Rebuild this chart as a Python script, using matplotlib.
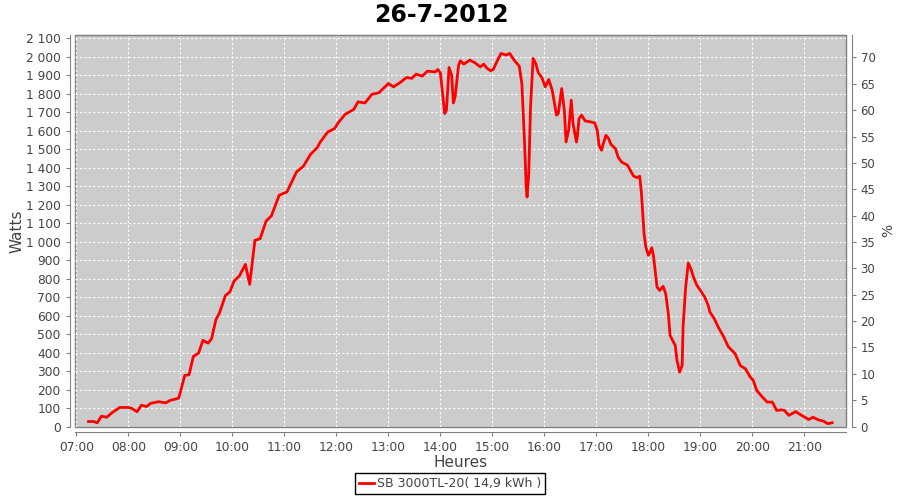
import matplotlib
matplotlib.use("Agg")
import matplotlib.pyplot as plt
from matplotlib.ticker import FuncFormatter, MultipleLocator
import numpy as np

# readings of the day (HH:MM, Watts)
times = ["07:14", "07:20", "07:24", "07:29", "07:35", "07:41", "07:50", "08:00", "08:04", "08:10",
         "08:15", "08:21", "08:26", "08:35", "08:43", "08:48", "08:58", "09:00", "09:05", "09:10",
         "09:15", "09:21", "09:26", "09:32", "09:36", "09:41", "09:45", "09:52", "09:57", "10:02",
         "10:08", "10:15", "10:20", "10:26", "10:32", "10:39", "10:45", "10:54", "11:03", "11:14",
         "11:22", "11:30", "11:38", "11:41", "11:50", "11:58", "12:02", "12:10", "12:20", "12:25",
         "12:33", "12:41", "12:49", "13:00", "13:06", "13:14", "13:21", "13:27", "13:32", "13:39",
         "13:45", "13:54", "13:57", "14:00", "14:03", "14:05", "14:07", "14:10", "14:13", "14:15",
         "14:17", "14:21", "14:23", "14:27", "14:34", "14:40", "14:46", "14:50", "14:54", "14:58",
         "15:01", "15:06", "15:10", "15:16", "15:20", "15:25", "15:31", "15:34", "15:37", "15:39",
         "15:40", "15:42", "15:44", "15:47", "15:50", "15:53", "15:57", "16:01", "16:05", "16:09",
         "16:14", "16:16", "16:20", "16:23", "16:25", "16:28", "16:31", "16:33", "16:37", "16:38",
         "16:40", "16:43", "16:47", "16:53", "16:58", "17:01", "17:03", "17:06", "17:08", "17:11",
         "17:14", "17:17", "17:22", "17:25", "17:29", "17:36", "17:39", "17:43", "17:47", "17:50",
         "17:52", "17:55", "17:57", "18:00", "18:02", "18:04", "18:06", "18:10", "18:13", "18:17",
         "18:20", "18:23", "18:25", "18:29", "18:31", "18:33", "18:36", "18:39", "18:40", "18:43",
         "18:46", "18:49", "18:52", "18:56", "19:00", "19:05", "19:09", "19:11", "19:16", "19:21",
         "19:27", "19:32", "19:40", "19:46", "19:52", "19:57", "20:01", "20:05", "20:11", "20:17",
         "20:23", "20:28", "20:34", "20:37", "20:42", "20:50", "20:55", "21:05", "21:10", "21:16",
         "21:22", "21:27", "21:32"]
watts = [27, 27, 20, 56, 50, 74, 103, 103, 98, 80,
         115, 108, 126, 134, 128, 141, 153, 186, 276, 280,
         379, 397, 466, 451, 475, 578, 613, 709, 727, 787,
         814, 877, 769, 1007, 1016, 1112, 1139, 1251, 1269, 1377,
         1408, 1471, 1509, 1536, 1593, 1612, 1642, 1688, 1715, 1756,
         1750, 1797, 1805, 1855, 1837, 1862, 1888, 1883, 1906, 1895,
         1922, 1918, 1931, 1913, 1783, 1693, 1711, 1942, 1900, 1750,
         1783, 1954, 1978, 1960, 1982, 1967, 1945, 1960, 1937, 1924,
         1931, 1982, 2018, 2009, 2018, 1982, 1949, 1855, 1548, 1296,
         1241, 1368, 1729, 1991, 1964, 1913, 1888, 1837, 1877, 1819,
         1684, 1693, 1828, 1711, 1539, 1603, 1765, 1639, 1539, 1566,
         1666, 1684, 1653, 1648, 1642, 1603, 1521, 1494, 1530, 1575,
         1558, 1525, 1503, 1458, 1431, 1413, 1386, 1354, 1346, 1354,
         1260, 1043, 971, 926, 944, 967, 917, 754, 736, 758,
         718, 610, 493, 456, 439, 357, 294, 330, 538, 754,
         884, 854, 808, 763, 736, 700, 655, 619, 583, 534,
         484, 433, 394, 330, 312, 271, 249, 195, 162, 132,
         132, 87, 90, 87, 60, 81, 65, 38, 50, 36,
         29, 15, 20]

title = "26-7-2012"
series_name = "SB 3000TL-20( 14,9 kWh )"

hours = np.array([int(t[:2]) + int(t[3:]) / 60 for t in times])

fig = plt.figure(figsize=(9, 5), dpi=100)
ax = fig.add_axes([0.0837, 0.147, 0.8563, 0.7824])
ax2 = ax.twinx()

axis_gray = "#808080"
text_gray = "#444444"

ax.set_facecolor("#cccccc")
ax.patch.set_edgecolor(axis_gray)
ax.patch.set_linewidth(1)

ax.plot(hours, watts, color="#ff0000", lw=2, label=series_name, zorder=3)

ax.set_xlim(6.98, 21.80)
ax.set_ylim(0, 2116)
ax2.set_ylim(0, 74.2)

ax.xaxis.set_major_locator(MultipleLocator(1))
ax.xaxis.set_major_formatter(FuncFormatter(lambda v, p: "%02d:00" % round(v)))
ax.yaxis.set_major_locator(MultipleLocator(100))
ax.yaxis.set_major_formatter(FuncFormatter(lambda v, p: "{:,}".format(int(v)).replace(",", " ")))
ax2.yaxis.set_major_locator(MultipleLocator(5))

ax.grid(True, color="white", linestyle=(0, (2, 2)), linewidth=0.8)
ax.set_axisbelow(True)

for s in ["left", "bottom"]:
    ax.spines[s].set_position(("outward", 4))
    ax.spines[s].set_color(axis_gray)
ax.spines["top"].set_color(axis_gray)
ax.spines["right"].set_visible(False)
for s in ["left", "bottom", "top"]:
    ax2.spines[s].set_visible(False)
ax2.spines["right"].set_position(("outward", 4))
ax2.spines["right"].set_color(axis_gray)

ax.tick_params(axis="both", colors=axis_gray, labelcolor=text_gray, labelsize=8.8, length=3)
ax2.tick_params(axis="y", colors=axis_gray, labelcolor=text_gray, labelsize=8.5, length=3)

fig.suptitle(title, x=0.49, y=0.995, fontsize=17, fontweight="bold")
ax.set_xlabel("Heures", fontsize=11, color=text_gray, labelpad=1)
ax.set_ylabel("Watts", fontsize=11, color=text_gray, labelpad=1)
ax2.set_ylabel("%", fontsize=10, color=text_gray, labelpad=4)

leg = fig.legend(loc="lower center", bbox_to_anchor=(0.5, 0.0), fancybox=False,
                 edgecolor="black", fontsize=9, handlelength=1.2, handletextpad=0.2,
                 borderpad=0.3, framealpha=1)
leg.get_frame().set_linewidth(1)
for t in leg.get_texts():
    t.set_color(text_gray)

fig.savefig("out.png", dpi=100)
